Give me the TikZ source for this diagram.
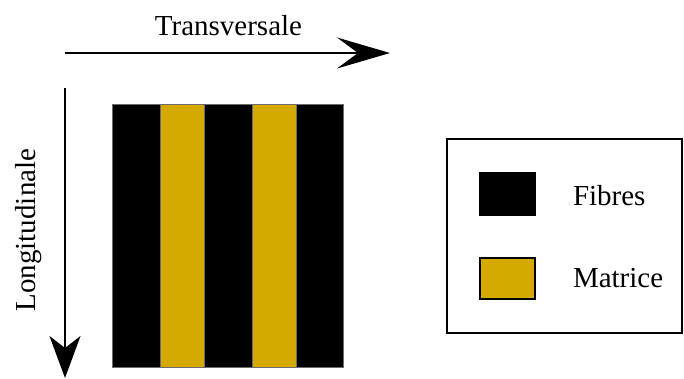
\documentclass[tikz,border=0pt]{standalone}
\usepackage{fontspec}
\setmainfont{Liberation Serif}
\usetikzlibrary{arrows.meta}
\definecolor{cgold}{HTML}{D4AA00}
\definecolor{cedge}{HTML}{6B6B6B}
\tikzset{
  every picture/.style={line width=2pt},
  lbl/.style={font=\fontsize{29}{34}\selectfont, inner sep=0pt},
  stripe/.style={fill=#1, draw=cedge, line width=0.6pt},
  swatch/.style={fill=#1, draw=black, line width=2.4pt},
  haxis/.style={-{Stealth[length=53pt, width=31pt, inset=21pt]}, line width=2.2pt},
  vaxis/.style={-{Stealth[length=42pt, width=31pt, inset=12pt]}, line width=2.2pt},
}

\begin{document}
\begin{tikzpicture}[x=1pt, y=-1pt]
  \useasboundingbox (0,0) rectangle (684,378);
  % ---- axes
  \coordinate (h0) at (65,53);  \coordinate (h1) at (390,53);
  \coordinate (v0) at (65,88);  \coordinate (v1) at (65,378);
  \draw[haxis] (h0) -- (h1);
  \draw[vaxis] (v0) -- (v1);
  \node[lbl, anchor=base] (trans) at (228.5,35) {Transversale};
  \node[lbl, anchor=base, rotate=90] (longi) at (35,230) {Longitudinale};
  % ---- ply
  \foreach \xa/\xb/\col in {112/160/black, 160/204/cgold, 204/252/black, 252/296/cgold, 296/343/black}
    \draw[stripe=\col] (\xa,104) rectangle (\xb,367);
  % ---- legend
  \draw[line width=2pt] (447,139) rectangle (682,333);
  \fill[black] (479,172) rectangle (536,216);
  \draw[swatch=cgold] (480,258) rectangle (535,299);
  \node[lbl, anchor=base west] (fib) at (572,205) {Fibres};
  \node[lbl, anchor=base west] (mat) at (572,287) {Matrice};
\end{tikzpicture}
\end{document}
